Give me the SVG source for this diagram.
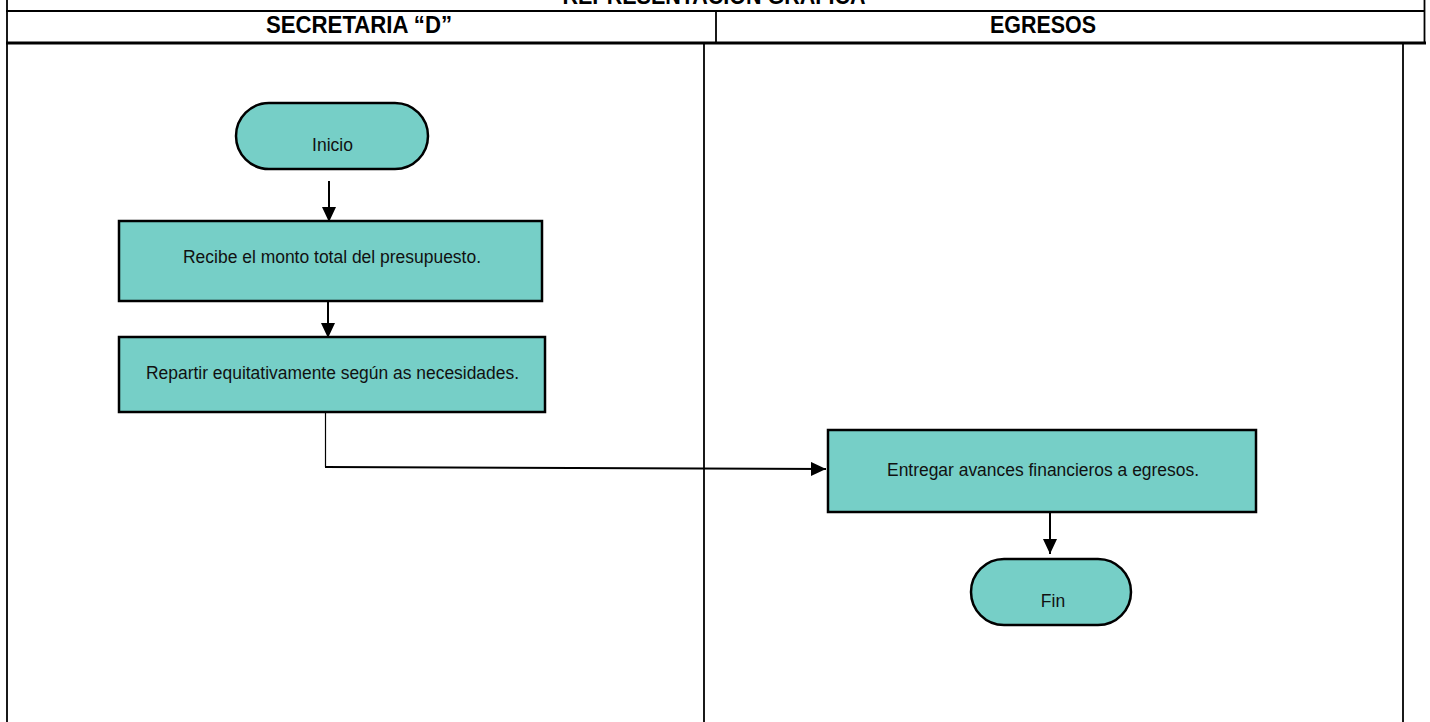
<svg xmlns="http://www.w3.org/2000/svg" width="1430" height="722" viewBox="0 0 1430 722">
<style>
.frame{stroke:#000;fill:none}
.node{fill:#76CFC7;stroke:#000;stroke-width:2.5}
.lbl{font-family:"Liberation Sans",Arial,sans-serif;font-size:17.5px;fill:#111;text-anchor:middle}
.hdr{font-family:"Liberation Sans",Arial,sans-serif;font-weight:bold;font-size:24px;fill:#000;text-anchor:middle}
.conn{stroke:#000;stroke-width:2;fill:none}
</style>
<defs>
<marker id="arr" markerUnits="userSpaceOnUse" markerWidth="16" markerHeight="16" refX="15" refY="7" orient="auto">
<path d="M0,0 L15,7 L0,14 Z" fill="#000"/>
</marker>
</defs>
<rect width="1430" height="722" fill="#fff"/>
<g id="table">
<text class="hdr" x="714" y="3.5" textLength="303" lengthAdjust="spacingAndGlyphs">REPRESENTACIÓN GRÁFICA</text>
<line class="frame" x1="7" y1="0" x2="7" y2="722" stroke-width="1.8"/>
<line class="frame" x1="6" y1="11" x2="1425" y2="11" stroke-width="2"/>
<line class="frame" x1="1424.5" y1="0" x2="1424.5" y2="44" stroke-width="1.8"/>
<line class="frame" x1="716" y1="11" x2="716" y2="43" stroke-width="1.8"/>
<line class="frame" x1="6" y1="43" x2="1426" y2="43" stroke-width="3"/>
<line class="frame" x1="704" y1="43" x2="704" y2="722" stroke-width="1.8"/>
<line class="frame" x1="1403" y1="43" x2="1403" y2="722" stroke-width="1.8"/>
<text class="hdr" x="359" y="33" textLength="186" lengthAdjust="spacingAndGlyphs">SECRETARIA “D”</text>
<text class="hdr" x="1043" y="33" textLength="106" lengthAdjust="spacingAndGlyphs">EGRESOS</text>
</g>
<g id="connectors">
<line class="conn" x1="329" y1="181" x2="329" y2="222" marker-end="url(#arr)"/>
<line class="conn" x1="328" y1="302" x2="328" y2="338" marker-end="url(#arr)"/>
<path d="M325.5,413 V467" stroke="#000" stroke-width="1.2" fill="none"/>
<path class="conn" d="M325,467 L826,469" marker-end="url(#arr)"/>
<line class="conn" x1="1050" y1="513" x2="1050" y2="554" marker-end="url(#arr)"/>
</g>
<g id="inicio">
<rect class="node" x="236" y="103" width="192" height="66" rx="33" ry="33"/>
<text class="lbl" x="332.5" y="150.5">Inicio</text>
</g>
<g id="recibe">
<rect class="node" x="119" y="221" width="423" height="80"/>
<text class="lbl" x="332" y="263" textLength="298" lengthAdjust="spacingAndGlyphs">Recibe el monto total del presupuesto.</text>
</g>
<g id="repartir">
<rect class="node" x="119" y="337" width="426" height="75"/>
<text class="lbl" x="332.5" y="379" textLength="373" lengthAdjust="spacingAndGlyphs">Repartir equitativamente según as necesidades.</text>
</g>
<g id="entregar">
<rect class="node" x="828" y="430" width="428" height="82"/>
<text class="lbl" x="1043" y="476" textLength="312" lengthAdjust="spacingAndGlyphs">Entregar avances financieros a egresos.</text>
</g>
<g id="fin">
<rect class="node" x="971" y="559" width="160" height="66" rx="33" ry="33"/>
<text class="lbl" x="1053" y="607">Fin</text>
</g>
</svg>
